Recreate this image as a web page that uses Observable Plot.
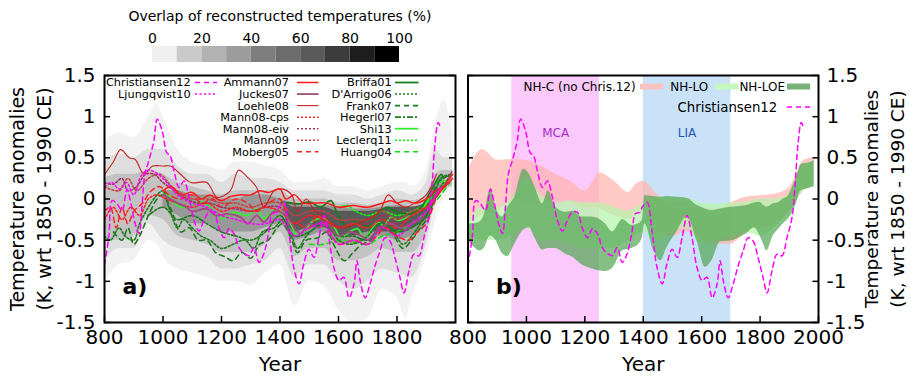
<!DOCTYPE html>
<html>
<head>
<meta charset="utf-8">
<script src="https://cdn.jsdelivr.net/npm/d3@7"></script>
<script src="https://cdn.jsdelivr.net/npm/@observablehq/plot@0.6"></script>
<style>
  body { margin: 0; background: #fff; }
  #chart { position: relative; width: 911px; height: 381px; font-family: "DejaVu Sans", sans-serif; overflow: hidden; }
  #chart > svg, #chart > figure { position: absolute; margin: 0; }
</style>
</head>
<body>
<div id="chart"></div>
<script>
// ---------------- Data ----------------
// Reconstructions (panel a): [year, anomaly K]
const christiansen12 = [[800,-0.8],[815,-0.45],[826,-0.02],[843,-0.06],[860,-0.14],[877,0.12],[888,-0.02],[905,-0.3],[918,-0.42],[928,-0.1],[938,0.3],[952,0.47],[969,0.71],[980,0.97],[997,0.83],[1013,0.56],[1024,0.53],[1037,0.35],[1055,0.14],[1072,0.22],[1089,0.02],[1106,-0.26],[1123,-0.39],[1140,-0.26],[1157,-0.16],[1174,-0.16],[1191,-0.35],[1209,-0.47],[1226,-0.36],[1243,-0.42],[1260,-0.59],[1277,-0.66],[1294,-0.69],[1311,-0.59],[1328,-0.77],[1345,-0.66],[1362,-0.39],[1373,-0.18],[1390,-0.16],[1396,-0.1],[1413,-0.04],[1430,-0.39],[1447,-0.83],[1465,-1.03],[1481,-0.79],[1499,-0.61],[1516,-0.71],[1533,-0.47],[1550,-0.2],[1567,-0.47],[1584,-0.83],[1602,-0.99],[1618,-0.95],[1636,-1.2],[1653,-1.03],[1663,-0.75],[1674,-0.99],[1691,-1.2],[1708,-1.03],[1725,-0.81],[1742,-0.63],[1759,-0.47],[1776,-0.51],[1793,-0.71],[1810,-0.95],[1824,-1.14],[1841,-0.87],[1858,-0.67],[1875,-0.69],[1892,-0.47],[1909,-0.23],[1920,0.18],[1930,0.67],[1941,0.93],[1950,0.85]];
const ljungqvist10 = [[800,0.15],[825,0.2],[850,0.12],[875,0.2],[900,0.05],[925,0.28],[950,0.35],[975,0.32],[1000,0.25],[1025,0.15],[1050,0.05],[1100,-0.05],[1150,-0.1],[1200,-0.2],[1250,-0.25],[1300,-0.3],[1350,-0.3],[1400,-0.25],[1450,-0.45],[1500,-0.35],[1550,-0.3],[1600,-0.55],[1650,-0.5],[1700,-0.55],[1750,-0.35],[1800,-0.45],[1850,-0.3],[1900,-0.15],[1950,0.15]];
const ammann07 = [[1000,0.1],[1030,0.15],[1060,0.05],[1100,0.08],[1130,0.0],[1160,0.05],[1200,-0.02],[1230,0.03],[1260,0.05],[1300,0.05],[1330,0.1],[1360,0.08],[1400,0.12],[1420,0.0],[1450,0.05],[1480,-0.05],[1520,-0.05],[1560,-0.05],[1600,-0.1],[1650,-0.08],[1700,-0.1],[1750,-0.05],[1780,-0.02],[1800,-0.05],[1830,-0.02],[1860,-0.05],[1900,0.0],[1930,0.1],[1960,0.15],[1990,0.25]];
const juckes07 = [[1000,0.05],[1050,-0.05],[1080,-0.1],[1100,-0.15],[1150,-0.12],[1180,-0.2],[1220,-0.18],[1265,-0.22],[1290,-0.3],[1320,-0.2],[1345,-0.28],[1380,-0.15],[1420,-0.2],[1450,-0.35],[1470,-0.42],[1500,-0.3],[1530,-0.35],[1560,-0.3],[1600,-0.45],[1640,-0.4],[1680,-0.45],[1700,-0.5],[1740,-0.35],[1780,-0.3],[1810,-0.35],[1850,-0.3],[1880,-0.25],[1910,-0.1],[1940,0.1],[1980,0.2]];
const loehle08 = [[800,0.3],[830,0.45],[855,0.6],[885,0.5],[905,0.48],[935,0.3],[965,0.4],[1000,0.4],[1025,0.4],[1060,0.3],[1095,0.2],[1150,0.2],[1185,0.02],[1230,0.1],[1258,0.35],[1290,0.26],[1320,0.14],[1345,-0.1],[1380,0.1],[1410,0.12],[1440,0.05],[1460,-0.15],[1490,0.0],[1520,-0.15],[1550,-0.2],[1580,-0.3],[1620,-0.35],[1660,-0.3],[1700,-0.25],[1740,-0.15],[1770,0.05],[1800,-0.05],[1830,-0.1],[1860,-0.05],[1900,0.05],[1935,0.3]];
const mann08cps = [[800,-0.25],[830,-0.1],[860,-0.25],[890,-0.1],[920,-0.2],[950,0.0],[980,0.05],[1010,0.0],[1050,-0.05],[1100,-0.1],[1150,-0.05],[1200,-0.15],[1250,-0.1],[1300,-0.15],[1350,-0.1],[1400,-0.15],[1450,-0.3],[1500,-0.2],[1550,-0.25],[1600,-0.35],[1650,-0.3],[1700,-0.35],[1750,-0.25],[1800,-0.35],[1850,-0.2],[1900,-0.1],[1950,0.1],[1990,0.3]];
const mann08eiv = [[800,0.2],[830,0.18],[860,0.25],[880,0.1],[910,0.15],[940,0.3],[970,0.3],[1000,0.2],[1040,0.1],[1080,0.0],[1120,-0.05],[1160,-0.05],[1200,-0.1],[1250,-0.12],[1300,-0.15],[1350,-0.1],[1400,-0.1],[1450,-0.3],[1500,-0.2],[1550,-0.25],[1600,-0.35],[1650,-0.3],[1700,-0.3],[1750,-0.2],[1800,-0.3],[1850,-0.2],[1900,-0.1],[1950,0.1],[1990,0.35]];
const mann09 = [[800,0.15],[850,0.1],[880,0.25],[910,0.1],[950,0.25],[990,0.3],[1030,0.15],[1070,0.05],[1100,0.0],[1150,0.0],[1200,-0.05],[1250,-0.05],[1300,-0.1],[1350,-0.05],[1400,-0.05],[1450,-0.2],[1500,-0.15],[1550,-0.15],[1600,-0.25],[1650,-0.25],[1700,-0.25],[1750,-0.15],[1800,-0.25],[1850,-0.15],[1900,-0.1],[1950,0.1],[1990,0.3]];
const moberg05 = [[800,-0.15],[820,-0.1],[840,-0.35],[860,-0.1],[880,-0.3],[900,-0.15],[930,-0.05],[960,0.1],[990,0.15],[1020,0.05],[1060,0.0],[1100,0.05],[1130,-0.05],[1170,0.0],[1200,-0.1],[1250,0.0],[1290,-0.05],[1320,-0.15],[1360,-0.05],[1400,0.0],[1430,-0.25],[1460,-0.3],[1500,-0.35],[1530,-0.2],[1570,-0.4],[1600,-0.55],[1650,-0.5],[1700,-0.55],[1730,-0.45],[1760,-0.35],[1800,-0.45],[1840,-0.5],[1870,-0.4],[1900,-0.3],[1940,0.05],[1979,0.2]];
const briffa01 = [[1402,-0.05],[1413,-0.04],[1459,-0.06],[1505,-0.04],[1539,-0.1],[1574,-0.02],[1596,-0.18],[1631,-0.34],[1665,-0.26],[1699,-0.34],[1733,-0.18],[1768,-0.1],[1802,-0.16],[1848,-0.18],[1882,-0.1],[1916,0.1],[1951,0.3],[1960,0.25]];
const darrigo06 = [[800,-0.45],[820,-0.5],[850,-0.35],[870,-0.45],[900,-0.5],[920,-0.3],[950,-0.1],[980,0.05],[1000,0.1],[1020,-0.1],[1050,-0.35],[1070,-0.25],[1100,-0.35],[1130,-0.45],[1160,-0.5],[1200,-0.6],[1240,-0.55],[1280,-0.5],[1310,-0.6],[1340,-0.4],[1380,-0.35],[1410,-0.25],[1440,-0.45],[1460,-0.6],[1490,-0.45],[1520,-0.35],[1560,-0.3],[1600,-0.5],[1640,-0.55],[1680,-0.5],[1700,-0.45],[1740,-0.3],[1780,-0.35],[1820,-0.55],[1850,-0.45],[1880,-0.3],[1920,-0.05],[1950,0.25],[1985,0.3]];
const frank07 = [[831,-0.4],[860,-0.5],[880,-0.35],[900,-0.55],[920,-0.45],[950,-0.2],[980,0.0],[1000,0.05],[1030,-0.15],[1060,-0.4],[1090,-0.35],[1120,-0.5],[1150,-0.5],[1180,-0.65],[1210,-0.7],[1240,-0.75],[1270,-0.65],[1300,-0.72],[1330,-0.55],[1360,-0.5],[1390,-0.35],[1410,-0.3],[1440,-0.5],[1460,-0.65],[1490,-0.5],[1530,-0.47],[1560,-0.4],[1590,-0.6],[1620,-0.75],[1650,-0.65],[1680,-0.55],[1710,-0.5],[1740,-0.35],[1780,-0.4],[1820,-0.6],[1850,-0.5],[1880,-0.35],[1910,-0.2],[1940,0.2],[1990,0.3]];
const hegerl07 = [[950,-0.2],[1000,-0.1],[1050,-0.25],[1100,-0.2],[1150,-0.3],[1200,-0.4],[1250,-0.45],[1300,-0.5],[1350,-0.4],[1400,-0.2],[1450,-0.45],[1500,-0.4],[1550,-0.3],[1600,-0.45],[1650,-0.45],[1700,-0.5],[1750,-0.35],[1800,-0.4],[1850,-0.35],[1900,-0.2],[1950,0.15],[1960,0.2]];
const shi13 = [[1000,0.05],[1013,0.06],[1048,-0.08],[1082,-0.1],[1105,-0.06],[1139,-0.04],[1173,-0.14],[1208,-0.24],[1241,-0.16],[1288,-0.2],[1322,-0.12],[1345,-0.24],[1379,-0.14],[1413,-0.18],[1436,-0.3],[1459,-0.45],[1482,-0.39],[1516,-0.26],[1550,-0.24],[1585,-0.34],[1608,-0.47],[1642,-0.39],[1665,-0.36],[1688,-0.47],[1710,-0.39],[1733,-0.28],[1756,-0.32],[1779,-0.22],[1802,-0.26],[1825,-0.24],[1848,-0.2],[1871,-0.16],[1893,-0.1],[1928,0.18],[1962,0.22]];
const leclerq11 = [[1600,-0.1],[1630,-0.08],[1660,-0.15],[1700,-0.2],[1750,-0.15],[1800,-0.2],[1850,-0.15],[1900,-0.05],[1950,0.15],[1990,0.3]];
const huang04 = [[1500,-0.55],[1550,-0.55],[1600,-0.5],[1650,-0.52],[1700,-0.55],[1750,-0.45],[1800,-0.4],[1850,-0.3],[1900,-0.15],[1950,0.05],[1980,0.2]];

const reconNames = ["Christiansen12","Ljungqvist10","Ammann07","Juckes07","Loehle08","Mann08-cps","Mann08-eiv","Mann09","Moberg05","Briffa01","D'Arrigo06","Frank07","Hegerl07","Shi13","Leclerq11","Huang04"];
const reconSeries = [christiansen12, ljungqvist10, ammann07, juckes07, loehle08, mann08cps, mann08eiv, mann09, moberg05, briffa01, darrigo06, frank07, hegerl07, shi13, leclerq11, huang04];
const reconColors = ["#ff00ff","#ff00ff","#ff1a1a","#a04c80","#c82222","#ff2020","#a03060","#c84040","#ff2020","#1e7a1e","#1e7a1e","#1e7a1e","#1e7a1e","#33ee33","#11ee11","#11dd11"];
const reconDashes = ["5,4","2,2.5",null,null,null,"2,2","2,2","2,2","5,4",null,"2,2","5,4","6,2,2,2",null,"2,2","5,4"];
const reconWidths = [1.5,1.5,1.5,1.8,1.1,1.5,1.5,1.5,1.5,1.8,1.6,1.6,1.6,1.8,1.6,1.6];

// Overlap density of the reconstructions (panel a), from faint to dense
const overlapYears1 = [800,850,900,950,980,1000,1050,1100,1150,1200,1250,1300,1350,1400,1450,1500,1550,1600,1650,1700,1750,1800,1830,1850,1900,1930,1960,1990];
const overlapLo1 = [-1.0,-0.8,-0.75,-0.5,-0.55,-0.7,-0.85,-0.9,-0.95,-1.0,-1.0,-1.05,-0.9,-0.8,-1.3,-1.0,-1.05,-1.35,-1.5,-1.45,-1.1,-1.2,-1.45,-1.2,-0.7,-0.3,0.0,0.05];
const overlapHi1 = [0.7,0.8,0.75,1.0,1.15,1.0,0.6,0.45,0.4,0.35,0.45,0.45,0.4,0.35,0.2,0.2,0.25,0.15,0.15,0.1,0.15,0.2,0.2,0.15,0.35,0.9,1.2,0.8];
const overlapYears2 = [800,850,900,950,1000,1050,1100,1150,1200,1250,1300,1350,1400,1450,1500,1550,1600,1650,1700,1750,1800,1850,1900,1930,1960,1990];
const overlapLo2 = [-0.75,-0.6,-0.6,-0.3,-0.5,-0.6,-0.65,-0.7,-0.85,-0.85,-0.8,-0.75,-0.6,-0.95,-0.8,-0.8,-1.0,-1.1,-1.0,-0.85,-0.9,-0.95,-0.55,-0.1,0.1,0.15];
const overlapHi2 = [0.45,0.55,0.5,0.6,0.6,0.4,0.3,0.3,0.2,0.3,0.25,0.25,0.2,0.1,0.1,0.1,0.05,0.05,0.0,0.05,0.1,0.05,0.2,0.6,0.5,0.5];
const overlapYears3 = overlapYears2;
const overlapLo3 = [-0.5,-0.5,-0.45,-0.2,-0.25,-0.45,-0.5,-0.55,-0.65,-0.65,-0.65,-0.55,-0.4,-0.7,-0.6,-0.6,-0.75,-0.75,-0.7,-0.6,-0.65,-0.65,-0.4,-0.05,0.1,0.15];
const overlapHi3 = [0.25,0.3,0.3,0.35,0.3,0.2,0.15,0.1,0.05,0.1,0.1,0.1,0.1,0.0,0.0,0.0,-0.05,-0.05,-0.08,-0.05,0.0,-0.02,0.05,0.3,0.35,0.35];
const overlapYears4 = [1000,1050,1100,1150,1200,1250,1300,1350,1400,1450,1500,1550,1600,1650,1700,1750,1800,1850,1900,1930,1960];
const overlapLo4 = [-0.1,-0.2,-0.3,-0.3,-0.4,-0.4,-0.4,-0.35,-0.3,-0.5,-0.45,-0.4,-0.55,-0.55,-0.5,-0.45,-0.5,-0.45,-0.3,0.0,0.15];
const overlapHi4 = [0.1,0.1,0.05,0.05,0.0,0.0,0.05,0.05,0.0,-0.05,-0.08,-0.08,-0.1,-0.12,-0.12,-0.1,-0.08,-0.1,-0.05,0.2,0.3];
const overlapYears5 = [1420,1450,1500,1550,1600,1650,1700,1750,1800,1850,1900,1930];
const overlapLo5 = [-0.25,-0.4,-0.35,-0.35,-0.45,-0.45,-0.4,-0.4,-0.4,-0.35,-0.25,0.05];
const overlapHi5 = [-0.05,-0.1,-0.1,-0.1,-0.15,-0.15,-0.15,-0.12,-0.1,-0.1,-0.05,0.15];
const overlapFills = ["#f2f2f2","#dedede","#c2c2c2","#989898","#5a5a5a"];

// Colour bar of the overlap percentage
const overlapBins = [0,10,20,30,40,50,60,70,80,90];
const overlapBinGrays = ["#efefef","#cacaca","#b2b2b2","#9c9c9c","#7e7e7e","#6c6c6c","#5a5a5a","#3c3c3c","#1e1e1e","#000000"];
const overlapTicks = [0,20,40,60,80,100];

// Composite bands (panel b)
const nhcYears = [800,850,900,950,1000,1050,1100,1150,1200,1225,1250,1300,1350,1375,1400,1450,1500,1550,1600,1650,1700,1750,1800,1850,1900,1925,1950,1985];
const nhcUpper = [0.35,0.6,0.47,0.48,0.47,0.4,0.3,0.22,0.1,0.19,0.32,0.22,0.08,0.18,0.22,0.05,-0.05,-0.05,-0.1,-0.12,-0.05,0.02,0.04,0.06,0.14,0.3,0.47,0.5];
const nhcLower = [-0.3,-0.2,-0.15,-0.05,-0.05,-0.05,-0.05,-0.05,-0.12,-0.1,-0.12,-0.2,-0.25,-0.2,-0.15,-0.4,-0.45,-0.4,-0.5,-0.55,-0.55,-0.4,-0.35,-0.3,-0.15,-0.02,0.1,0.18];
const nhloYears = [800,850,900,950,1000,1050,1100,1150,1200,1250,1300,1350,1400,1450,1500,1550,1600,1650,1700,1750,1800,1850,1900,1950,1985];
const nhloUpper = [-0.25,-0.1,-0.1,0.0,0.25,0.05,-0.05,-0.02,-0.05,-0.05,-0.1,-0.15,-0.05,0.02,0.0,0.0,-0.05,-0.06,-0.05,-0.04,0.0,0.0,0.05,0.4,0.45];
const nhloLower = [-0.45,-0.5,-0.5,-0.45,-0.35,-0.5,-0.5,-0.55,-0.6,-0.6,-0.6,-0.5,-0.4,-0.5,-0.4,-0.35,-0.55,-0.5,-0.45,-0.4,-0.45,-0.35,-0.15,0.1,0.15];
const nhloeYears = [800,820,840,855,877,895,917,935,960,990,1010,1030,1055,1075,1100,1135,1160,1190,1225,1270,1295,1330,1360,1385,1398,1405,1435,1460,1480,1515,1550,1585,1612,1635,1665,1700,1730,1755,1780,1800,1812,1823,1845,1860,1880,1895,1915,1925,1940,1970,1985];
const nhloeUpper = [-0.3,-0.3,-0.28,-0.2,0.12,-0.1,-0.22,-0.1,0.02,0.36,0.3,0.14,-0.06,0.1,-0.1,-0.16,-0.15,-0.22,-0.22,-0.3,-0.4,-0.25,-0.32,-0.3,-0.25,0.04,0.03,0.02,0.03,0.02,0.01,-0.08,-0.12,-0.14,-0.12,-0.1,-0.09,-0.08,-0.05,-0.04,-0.08,-0.1,-0.06,-0.05,0.0,0.03,0.18,0.26,0.42,0.44,0.47];
const nhloeLower = [-0.5,-0.58,-0.63,-0.6,-0.45,-0.5,-0.66,-0.7,-0.55,-0.38,-0.35,-0.48,-0.62,-0.6,-0.6,-0.67,-0.71,-0.8,-0.85,-0.88,-0.84,-0.63,-0.6,-0.55,-0.45,-0.3,-0.62,-0.75,-0.6,-0.4,-0.22,-0.52,-0.83,-0.75,-0.52,-0.51,-0.47,-0.42,-0.35,-0.45,-0.55,-0.63,-0.45,-0.38,-0.3,-0.25,-0.14,-0.05,0.1,0.13,0.15];
const bandNames = ["NH-C (no Chris.12)","NH-LO","NH-LOE"];
const bandFills = ["#ffb4ac","#b6f5aa","#55a655"];
const bandOpacity = [0.7,0.72,0.72];
const bandSwatches = ["#f9c3bf","#c6f7bd","#79b279"];

// Climate periods (panel b)
const periodNames = ["MCA","LIA"];
const periodStart = [950,1400];
const periodEnd = [1250,1700];
const periodFills = ["#fbc9fb","#c9e2f8"];
const periodTextColors = ["#a52fcc","#2c56b0"];

const yearTicksA = [800,1000,1200,1400,1600,1800];
const yearTicksB = [800,1000,1200,1400,1600,1800,2000];
const tempTicks = [-1.5,-1,-0.5,0,0.5,1,1.5];

// ---------------- Tables ----------------
const recon = reconNames.flatMap((name, i) =>
  reconSeries[i].map(([year, t]) => ({name, year, t})));
const bandRows = (years, lo, hi) => years.map((year, i) => ({year, lo: lo[i], hi: hi[i]}));
const overlapLevels = [
  bandRows(overlapYears1, overlapLo1, overlapHi1),
  bandRows(overlapYears2, overlapLo2, overlapHi2),
  bandRows(overlapYears3, overlapLo3, overlapHi3),
  bandRows(overlapYears4, overlapLo4, overlapHi4),
  bandRows(overlapYears5, overlapLo5, overlapHi5)
];
const composites = [
  bandRows(nhcYears, nhcLower, nhcUpper),
  bandRows(nhloYears, nhloLower, nhloUpper),
  bandRows(nhloeYears, nhloeLower, nhloeUpper)
];
const periods = periodNames.map((name, i) => ({name, start: periodStart[i], end: periodEnd[i], fill: periodFills[i], color: periodTextColors[i]}));
const christiansenRows = recon.filter(d => d.name === "Christiansen12");

// ---------------- Layout ----------------
const FONT = "DejaVu Sans";
const chart = document.getElementById("chart");
const place = (el, left, top) => { el.style.left = left + "px"; el.style.top = top + "px"; el.style.overflow = "visible"; chart.appendChild(el); return el; };

const frameW = 351, frameH = 247;
const axisTitle = "Temperature anomalies\n(K, wrt 1850 - 1990 CE)";
const common = (ticks) => ({
  height: 381,
  marginTop: 75, marginBottom: 59,
  x: {domain: [800, 2000], ticks, tickSize: 0, tickPadding: 7, tickFormat: d => String(d), label: null},
  y: {domain: [-1.5, 1.5], ticks: tempTicks, tickSize: 0, tickPadding: 9, tickFormat: d => String(d), label: null},
  style: {fontFamily: FONT, fontSize: "20px", color: "#000", background: "transparent", overflow: "visible"}
});
const innerTicks = (ticks) => [
  Plot.tickX(ticks, {x: d => d, insetTop: frameH - 6, stroke: "#000", strokeWidth: 1.5}),
  Plot.tickY(tempTicks, {y: d => d, insetRight: frameW - 6, stroke: "#000", strokeWidth: 1.5}),
  Plot.tickY(tempTicks, {y: d => d, insetLeft: frameW - 6, stroke: "#000", strokeWidth: 1.5})
];

// Panel a: overlap density and individual reconstructions
const drawOrder = d3.range(reconNames.length).reverse();
const panelA = Plot.plot({
  ...common(yearTicksA),
  width: 460, marginLeft: 104, marginRight: 5,
  marks: [
    ...overlapLevels.map((rows, i) => Plot.areaY(rows, {x: "year", y1: "lo", y2: "hi", fill: overlapFills[i], curve: "monotone-x"})),
    ...drawOrder.map(i => Plot.line(recon.filter(d => d.name === reconNames[i]), {
      x: "year", y: "t", stroke: reconColors[i], strokeWidth: reconWidths[i],
      strokeDasharray: reconDashes[i] ?? undefined, curve: "catmull-rom", clip: true
    })),
    ...innerTicks(yearTicksA),
    Plot.frame({stroke: "#000", strokeWidth: 2}),
    Plot.text(["a)"], {frameAnchor: "bottom-left", dx: 18, dy: -29, textAnchor: "start", fontSize: 22, fontWeight: "bold"}),
    Plot.text(["Year"], {frameAnchor: "bottom", dy: 48, fontSize: 20}),
    Plot.text([axisTitle], {frameAnchor: "left", dx: -76, rotate: -90, textAnchor: "middle", fontSize: 19, lineHeight: 1.42})
  ]
});
place(panelA, 0, 0);

// Panel b: composite bands with Christiansen12
const panelB = Plot.plot({
  ...common(yearTicksB),
  width: 481, marginLeft: 37.5, marginRight: 93,
  y: {...common().y, axis: "right", tickPadding: 8},
  marks: [
    Plot.rectX(periods, {x1: "start", x2: "end", fill: "fill"}),
    ...composites.map((rows, i) => Plot.areaY(rows, {x: "year", y1: "lo", y2: "hi", fill: bandFills[i], fillOpacity: bandOpacity[i], curve: "monotone-x"})),
    Plot.line(christiansenRows, {x: "year", y: "t", stroke: reconColors[0], strokeWidth: reconWidths[0], strokeDasharray: reconDashes[0], curve: "catmull-rom", clip: true}),
    Plot.text(periods, {x: d => (d.start + d.end) / 2, frameAnchor: "top", dy: 53, text: "name", fill: "color", fontSize: 12}),
    ...innerTicks(yearTicksB),
    Plot.frame({stroke: "#000", strokeWidth: 2}),
    Plot.text(["b)"], {frameAnchor: "bottom-left", dx: 28, dy: -29, textAnchor: "start", fontSize: 22, fontWeight: "bold"}),
    Plot.text(["Year"], {frameAnchor: "bottom", dy: 48, fontSize: 20}),
    Plot.text([axisTitle], {frameAnchor: "right", dx: 64, rotate: -90, textAnchor: "middle", fontSize: 18.5, lineHeight: 1.42})
  ]
});
place(panelB, 430, 0);

// Colour bar for overlap percentage
const colorBar = Plot.plot({
  width: 290, height: 64,
  marginLeft: 22, marginRight: 21, marginTop: 46, marginBottom: 2,
  x: {domain: [0, 100], ticks: overlapTicks, axis: "top", tickSize: 0, tickPadding: 4, label: null},
  style: {fontFamily: FONT, fontSize: "14px", color: "#000", background: "transparent", overflow: "visible"},
  marks: [
    Plot.rectX(overlapBins, {x1: d => d, x2: d => d + 10, fill: (d, i) => overlapBinGrays[i]}),
    Plot.text(["Overlap of reconstructed temperatures (%)"], {frameAnchor: "top", dx: 4, dy: -35, fontSize: 14})
  ]
});
place(colorBar, 130, 0);

// Legends
const legend = d3.create("svg").attr("width", 911).attr("height", 381)
  .style("pointer-events", "none").attr("font-family", FONT).attr("font-size", 11.3);
const colText = [190.7, 289, 391.7];
const colSample = [[195, 217], [297, 318.5], [395, 418.5]];
const colStart = [0, 2, 9];
reconNames.forEach((name, i) => {
  const col = i >= colStart[2] ? 2 : i >= colStart[1] ? 1 : 0;
  const row = i - colStart[col];
  const y = 82.5 + row * 11.55;
  legend.append("text").attr("x", colText[col]).attr("y", y).attr("dy", "0.35em")
    .attr("text-anchor", "end").text(name);
  legend.append("line").attr("x1", colSample[col][0]).attr("x2", colSample[col][1])
    .attr("y1", y).attr("y2", y).attr("stroke", reconColors[i])
    .attr("stroke-width", reconWidths[i]).attr("stroke-dasharray", reconDashes[i]);
});
const bandText = [635.7, 708.3, 785];
const bandSample = [[640, 663.5], [715, 738.5], [787, 810]];
bandNames.forEach((name, i) => {
  legend.append("text").attr("x", bandText[i]).attr("y", 86.5).attr("dy", "0.35em")
    .attr("font-size", 12).attr("text-anchor", "end").text(name);
  legend.append("rect").attr("x", bandSample[i][0]).attr("y", 83.5)
    .attr("width", bandSample[i][1] - bandSample[i][0]).attr("height", 6).attr("fill", bandSwatches[i]);
});
legend.append("text").attr("x", 777.3).attr("y", 107).attr("dy", "0.35em")
  .attr("font-size", 13.3).attr("text-anchor", "end").text(reconNames[0]);
legend.append("line").attr("x1", 787).attr("x2", 810).attr("y1", 107).attr("y2", 107)
  .attr("stroke", reconColors[0]).attr("stroke-width", reconWidths[0]).attr("stroke-dasharray", reconDashes[0]);
place(legend.node(), 0, 0);
</script>
</body>
</html>
